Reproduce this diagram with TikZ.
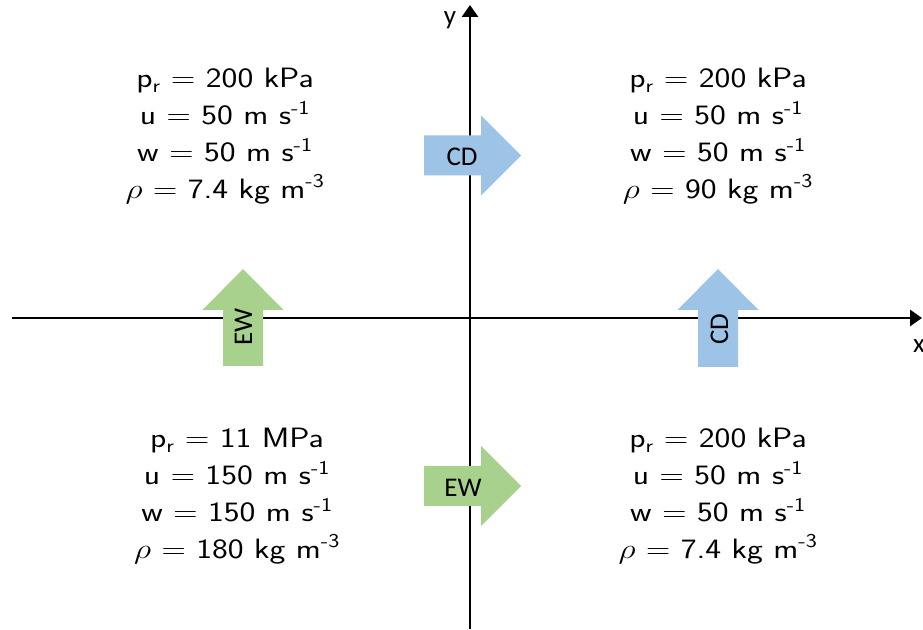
\RequirePackage{fix-cm}
\documentclass[tikz,border=0pt]{standalone}
\usepackage{graphicx}
\usepackage{fontspec}
\newfontfamily\lblfont{Carlito}
\usetikzlibrary{arrows.meta}
\definecolor{cdblue}{RGB}{157,195,230}
\definecolor{ewgreen}{RGB}{169,209,142}
\tikzset{
  axisline/.style={line width=2.8pt,-{Triangle[length=12pt,width=16pt]}},
  statebox/.style={font=\sffamily\fontsize{28}{36.7}\selectfont,inner sep=0pt,anchor=base},
  arrowlbl/.style={font=\lblfont\fontsize{27}{30}\selectfont,inner sep=0pt},
  axislbl/.style={font=\lblfont\fontsize{27}{30}\selectfont,inner sep=0pt},
}
\newcommand{\stateblock}[4]{\scalebox{1.2}[1]{\begin{tabular}[t]{@{}c@{}}p$_{\mathsf{r}}$ $=$ #1\\u $=$ #2 m s\textsuperscript{-1}\\w $=$ #3 m s\textsuperscript{-1}\\$\rho$ $=$ #4 kg m\textsuperscript{-3}\end{tabular}}}
\begin{document}
\begin{tikzpicture}[x=1pt,y=1pt]
\useasboundingbox (0,0) rectangle (923,629);
% axes
\coordinate (xs) at (12,311);
\coordinate (xe) at (922,311);
\coordinate (ys) at (470,0);
\coordinate (ye) at (470,624);
\draw[axisline] (xs) -- (xe);
\draw[axisline] (ys) -- (ye);
\node[axislbl] (xl) at (919,283) {x};
\node[axislbl] (yl) at (450,609) {y};
% right arrow CD (top)
\fill[cdblue] (424,493.5) -- (481,493.5) -- (481,513.5) -- (521,473.5) -- (481,433.5) -- (481,453.5) -- (424,453.5) -- cycle;
\node[arrowlbl] (cd1) at (462,472) {CD};
% right arrow EW (bottom)
\fill[ewgreen] (424,163) -- (481,163) -- (481,183) -- (521,143) -- (481,103) -- (481,123) -- (424,123) -- cycle;
\node[arrowlbl] (ew2) at (463,141) {EW};
% up arrow EW (left)
\fill[ewgreen] (223,263) -- (223,319) -- (202.5,319) -- (243,360) -- (283.5,319) -- (263,319) -- (263,263) -- cycle;
\node[arrowlbl,rotate=90] (ew1) at (243.5,302) {EW};
% up arrow CD (right)
\fill[cdblue] (698,262) -- (698,319) -- (677.5,319) -- (718,360) -- (758.5,319) -- (738,319) -- (738,262) -- cycle;
\node[arrowlbl,rotate=90] (cd2) at (719.5,300) {CD};
% state texts
\node[statebox] (tl) at (225,541) {\stateblock{200 kPa}{50}{50}{7.4}};
\node[statebox] (tr) at (718,541) {\stateblock{200 kPa}{50}{50}{90}};
\node[statebox] (bl) at (237,181) {\stateblock{11 MPa}{150}{150}{180}};
\node[statebox] (br) at (718,181) {\stateblock{200 kPa}{50}{50}{7.4}};
\end{tikzpicture}
\end{document}
